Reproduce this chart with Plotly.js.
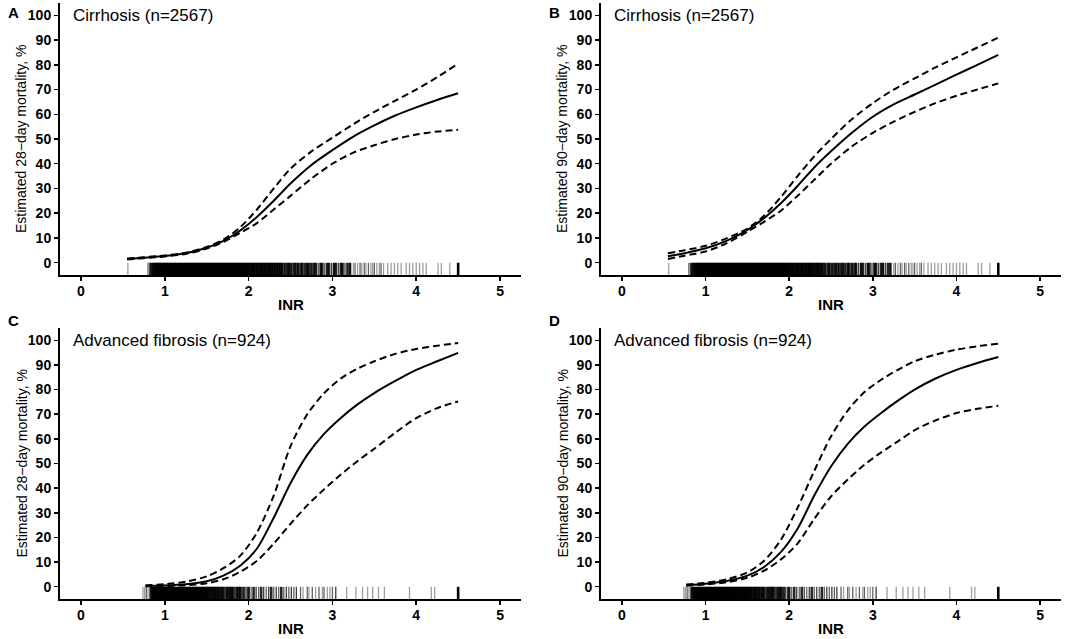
<!DOCTYPE html>
<html>
<head>
<meta charset="utf-8">
<script src="https://cdn.plot.ly/plotly-3.0.1.min.js"></script>
<style>
html, body { margin: 0; padding: 0; background: #fff; }
#plot { width: 1084px; height: 639px; }
</style>
</head>
<body>
<div id="plot"></div>
<script>
var inrCirr = [0.55, 0.75, 1.0, 1.25, 1.5, 1.7, 1.9, 2.1, 2.3, 2.5, 2.75, 3.0, 3.25, 3.5, 3.75, 4.0, 4.25, 4.5];
var inrFib  = [0.77, 1.0, 1.25, 1.5, 1.7, 1.9, 2.1, 2.3, 2.5, 2.7, 2.9, 3.1, 3.3, 3.5, 3.75, 4.0, 4.25, 4.5];

// A: cirrhosis, 28-day
var cirr28Est = [1.5, 2.0, 2.7, 3.8, 6.0, 8.8, 13, 18.5, 25, 32, 39.5, 45.5, 51, 55.5, 59.5, 62.8, 65.8, 68.5];
var cirr28Hi  = [1.7, 2.2, 2.9, 4.0, 6.3, 9.3, 14.3, 21.5, 30, 38, 45, 50.5, 56, 61, 65.5, 70, 75, 80.5];
var cirr28Lo  = [1.3, 1.8, 2.5, 3.5, 5.7, 8.4, 12, 16, 21.5, 27, 34, 40, 44.5, 47.5, 50, 51.8, 53, 53.7];

// B: cirrhosis, 90-day
var cirr90Est = [2.6, 3.8, 5.8, 8.8, 13.2, 18, 24, 31, 38.5, 45, 52.5, 59, 64, 68, 72, 76, 80, 84];
var cirr90Hi  = [3.8, 5.0, 6.8, 9.8, 13.8, 19, 26.5, 35, 43, 50, 58, 64.5, 70, 74.5, 79, 83, 87, 91];
var cirr90Lo  = [1.5, 2.8, 4.5, 7.8, 12.5, 16.5, 21, 27, 33.5, 40, 47, 52.5, 57, 61, 64.5, 67.5, 70, 72.5];

// C: advanced fibrosis, 28-day
var fib28Est = [0.3, 0.5, 1.0, 2.2, 4.5, 8.5, 15.5, 28, 42, 53.5, 62, 68.5, 74, 78.6, 83.5, 88, 91.5, 94.9];
var fib28Hi  = [0.6, 1.0, 2.0, 4.2, 7.5, 12.5, 22, 37, 57, 70, 78.5, 84.5, 88.5, 91.5, 94.5, 96.5, 97.8, 98.9];
var fib28Lo  = [0.2, 0.3, 0.6, 1.4, 3.0, 6.0, 10.5, 17.5, 25.5, 33, 39.5, 45.5, 51, 56, 62.5, 68.4, 72.5, 75.2];

// D: advanced fibrosis, 90-day
var fib90Est = [0.6, 1.2, 2.3, 4.5, 8, 14, 23.5, 37, 48.8, 58, 65, 70.5, 75.5, 80, 84.5, 88, 90.8, 93.2];
var fib90Hi  = [0.9, 1.6, 3, 5.8, 10.5, 19, 32, 47, 61, 71.5, 79, 84, 88, 91.5, 94.2, 96.2, 97.6, 98.6];
var fib90Lo  = [0.4, 0.9, 1.8, 3.6, 6.5, 11, 17.5, 27.5, 36.6, 43.5, 49.5, 54.5, 59, 63.5, 67.5, 70.5, 72.2, 73.4];

// rug: observed INR values and how many patients sit at each
var rugCirrINR = [0.56, 0.80, 0.82, 0.84, 0.86, 0.88, 0.90, 0.92, 0.94, 0.96, 0.98,
  1.00, 1.02, 1.04, 1.06, 1.08, 1.10, 1.12, 1.14, 1.16, 1.18, 1.20, 1.22, 1.24, 1.26, 1.28,
  1.30, 1.32, 1.34, 1.36, 1.38, 1.40, 1.42, 1.44, 1.46, 1.48, 1.50, 1.52, 1.54, 1.56, 1.58,
  1.60, 1.62, 1.64, 1.66, 1.68, 1.70, 1.72, 1.74, 1.76, 1.78, 1.80, 1.82, 1.84, 1.86, 1.88,
  1.90, 1.92, 1.94, 1.96, 1.98, 2.00, 2.02, 2.04, 2.06, 2.08, 2.10, 2.12, 2.14, 2.16, 2.18,
  2.20, 2.22, 2.24, 2.26, 2.28, 2.30, 2.32, 2.34, 2.36, 2.38, 2.40, 2.43, 2.46, 2.48, 2.51,
  2.54, 2.56, 2.59, 2.62, 2.64, 2.67, 2.70, 2.72, 2.75, 2.78, 2.80, 2.83, 2.86, 2.88, 2.91,
  2.94, 2.96, 2.99, 3.02, 3.04, 3.07, 3.10, 3.12, 3.15, 3.18, 3.21, 3.25, 3.27, 3.30, 3.33,
  3.35, 3.38, 3.40, 3.43, 3.46, 3.48, 3.50, 3.53, 3.56, 3.58, 3.61, 3.66, 3.70, 3.74, 3.78,
  3.82, 3.88, 3.92, 3.96, 4.00, 4.04, 4.08, 4.12, 4.26, 4.30, 4.40, 4.50];
var rugCirrN = [1, 2, 3, 5, 6, 8, 10, 10, 10, 10, 10,
  10, 10, 10, 10, 10, 10, 10, 10, 10, 10, 10, 10, 10, 10, 10,
  10, 10, 10, 10, 10, 10, 10, 10, 10, 10, 10, 10, 10, 10, 10,
  10, 10, 10, 10, 10, 10, 10, 10, 10, 10, 10, 10, 10, 10, 10,
  10, 9, 9, 8, 8, 8, 6, 8, 7, 6, 8, 6, 7, 8, 6,
  7, 6, 8, 6, 7, 5, 6, 7, 5, 6, 6, 5, 4, 6, 5,
  4, 5, 6, 4, 5, 4, 6, 4, 5, 4, 5, 3, 5, 4, 3,
  5, 4, 3, 5, 4, 3, 4, 5, 3, 4, 5, 1, 2, 1, 2,
  1, 2, 1, 2, 1, 1, 2, 1, 1, 2, 1, 1, 1, 1, 1,
  1, 1, 1, 1, 1, 1, 1, 1, 1, 1, 1, 14];

var rugFibINR = [0.74, 0.76, 0.78, 0.80, 0.82, 0.84, 0.86, 0.88, 0.90, 0.92, 0.94, 0.96, 0.98,
  1.00, 1.02, 1.04, 1.06, 1.08, 1.10, 1.12, 1.14, 1.16, 1.18, 1.20, 1.22, 1.24, 1.26, 1.28,
  1.30, 1.32, 1.34, 1.36, 1.38, 1.40, 1.42, 1.44, 1.46, 1.48, 1.50, 1.52, 1.54, 1.56, 1.58,
  1.60, 1.62, 1.64, 1.66, 1.68, 1.70, 1.72, 1.74, 1.76, 1.78, 1.80, 1.82, 1.84, 1.86, 1.88,
  1.90, 1.92, 1.94, 1.96, 1.98, 2.00, 2.03, 2.06, 2.09, 2.12, 2.15, 2.18, 2.21, 2.24, 2.27,
  2.30, 2.33, 2.36, 2.39, 2.42, 2.45, 2.48, 2.51, 2.54, 2.57, 2.62, 2.65, 2.70, 2.72, 2.76,
  2.80, 2.84, 2.88, 2.90, 2.94, 2.97, 3.00, 3.04, 3.17, 3.28, 3.36, 3.42, 3.48, 3.55, 3.62,
  3.92, 4.18, 4.22, 4.50];
var rugFibN = [1, 1, 2, 1, 2, 6, 8, 10, 10, 10, 10, 10, 10,
  10, 10, 10, 10, 10, 10, 10, 10, 10, 10, 10, 10, 10, 10, 10,
  10, 10, 10, 10, 9, 9, 10, 8, 9, 8, 9, 6, 7, 5, 6, 7,
  5, 6, 4, 6, 5, 3, 6, 4, 5, 6, 4, 3, 5, 4,
  6, 3, 4, 2, 3, 5, 2, 4, 3, 2, 4, 3, 2, 3, 4,
  2, 3, 2, 4, 2, 3, 2, 3, 2, 3, 2, 1, 2, 1, 2,
  1, 2, 1, 2, 1, 1, 2, 3, 1, 1, 1, 1, 1, 1, 1,
  1, 1, 1, 10];

var panelNames = ['Cirrhosis (n=2567)', 'Cirrhosis (n=2567)', 'Advanced fibrosis (n=924)', 'Advanced fibrosis (n=924)'];
var yTitles = ['Estimated 28\u2212day mortality, %', 'Estimated 90\u2212day mortality, %',
               'Estimated 28\u2212day mortality, %', 'Estimated 90\u2212day mortality, %'];
var panelLetters = ['A', 'B', 'C', 'D'];
var xTicks = [0, 1, 2, 3, 4, 5];
var yTicks = [0, 10, 20, 30, 40, 50, 60, 70, 80, 90, 100];

var FONT = 'Liberation Sans, Arial, Helvetica, sans-serif';

// overlapping semi-transparent rug ticks: darker where more patients share a value
function rugColors(counts) {
    return counts.map(function (n) {
        var a = 1 - Math.pow(0.62, n);
        return 'rgba(0,0,0,' + a.toFixed(3) + ')';
    });
}
function rugWidths(counts) {
    return counts.map(function (n) { return n >= 4 ? 2.6 : 1.3; });
}

function bold(v) { return '<b>' + v + '</b>'; }

function panelTraces(k, inr, est, hi, lo, rugX, rugN) {
    var sfx = k === 0 ? '' : String(k + 1);
    var ax = {xaxis: 'x' + sfx, yaxis: 'y' + sfx};
    var dashed = {color: '#000', width: 2, dash: '7px,4px', shape: 'spline', smoothing: 0.8};
    return [
        Object.assign({type: 'scatter', mode: 'markers', x: rugX,
            y: rugX.map(function () { return -2.6; }),
            marker: {symbol: 'line-ns', size: 9, color: rugColors(rugN),
                     line: {width: rugWidths(rugN), color: rugColors(rugN)}},
            hoverinfo: 'x'}, ax),
        Object.assign({type: 'scatter', mode: 'lines', x: inr, y: hi, line: dashed, hoverinfo: 'skip'}, ax),
        Object.assign({type: 'scatter', mode: 'lines', x: inr, y: lo, line: dashed, hoverinfo: 'skip'}, ax),
        Object.assign({type: 'scatter', mode: 'lines', x: inr, y: est,
            line: {color: '#000', width: 2, shape: 'spline', smoothing: 0.8}}, ax)
    ];
}

var data = [].concat(
    panelTraces(0, inrCirr, cirr28Est, cirr28Hi, cirr28Lo, rugCirrINR, rugCirrN),
    panelTraces(1, inrCirr, cirr90Est, cirr90Hi, cirr90Lo, rugCirrINR, rugCirrN),
    panelTraces(2, inrFib, fib28Est, fib28Hi, fib28Lo, rugFibINR, rugFibN),
    panelTraces(3, inrFib, fib90Est, fib90Hi, fib90Lo, rugFibINR, rugFibN)
);

// panel boxes in pixels: [left, right, top, bottom]
var boxes = [[60, 521, 3, 275], [601, 1061, 3, 275], [60, 521, 328, 599], [601, 1061, 328, 599]];
var W = 1084, H = 639;

var layout = {
    width: W, height: H,
    margin: {l: 0, r: 0, t: 0, b: 0, pad: 0},
    paper_bgcolor: '#fff',
    plot_bgcolor: '#fff',
    showlegend: false,
    font: {family: FONT, color: '#000'},
    annotations: []
};

boxes.forEach(function (b, k) {
    var sfx = k === 0 ? '' : String(k + 1);
    var common = {
        showgrid: false, zeroline: false,
        showline: true, linecolor: '#000', linewidth: 2,
        ticks: 'outside', ticklen: 4, tickwidth: 1.5, tickcolor: '#000',
        tickfont: {family: FONT, size: 14, color: '#000'},
        fixedrange: true
    };
    layout['xaxis' + sfx] = Object.assign({}, common, {
        domain: [b[0] / W, b[1] / W], anchor: 'y' + sfx,
        range: [-0.25, 5.25], tickmode: 'array', tickvals: xTicks, ticktext: xTicks.map(bold),
        ticklabelstandoff: -2
    });
    layout['yaxis' + sfx] = Object.assign({}, common, {
        domain: [1 - b[3] / H, 1 - b[2] / H], anchor: 'x' + sfx,
        range: [-5, 105], tickmode: 'array', tickvals: yTicks, ticktext: yTicks.map(bold)
    });
    var x0 = 0.25 / 5.5 * (b[1] - b[0]) + b[0];
    var x5 = 5.25 / 5.5 * (b[1] - b[0]) + b[0];
    layout.annotations.push(
        {text: panelNames[k], xref: 'paper', yref: 'paper', x: (b[0] + 11) / W,
         y: 1 - (b[2] + 12) / H, xanchor: 'left', yanchor: 'middle',
         showarrow: false, font: {family: FONT, size: 17, color: '#000'}},
        {text: '<b>INR</b>', xref: 'paper', yref: 'paper', x: ((x0 + x5) / 2) / W,
         y: 1 - (b[3] + 29) / H, xanchor: 'center', yanchor: 'middle',
         showarrow: false, font: {family: FONT, size: 15, color: '#000'}},
        {text: yTitles[k], xref: 'paper', yref: 'paper', x: (b[0] - 39) / W,
         y: 1 - ((b[2] + b[3]) / 2) / H, xanchor: 'center', yanchor: 'middle', textangle: -90,
         showarrow: false, font: {family: FONT, size: 14, color: '#000'}},
        {text: '<b>' + panelLetters[k] + '</b>', xref: 'paper', yref: 'paper', x: (k % 2 === 0 ? 6 : 547) / W,
         y: 1 - (k < 2 ? 12 : 320) / H, xanchor: 'left', yanchor: 'middle',
         showarrow: false, font: {family: FONT, size: 15, color: '#000'}}
    );
});

Plotly.newPlot('plot', data, layout, {displayModeBar: false, staticPlot: true});
</script>
</body>
</html>
